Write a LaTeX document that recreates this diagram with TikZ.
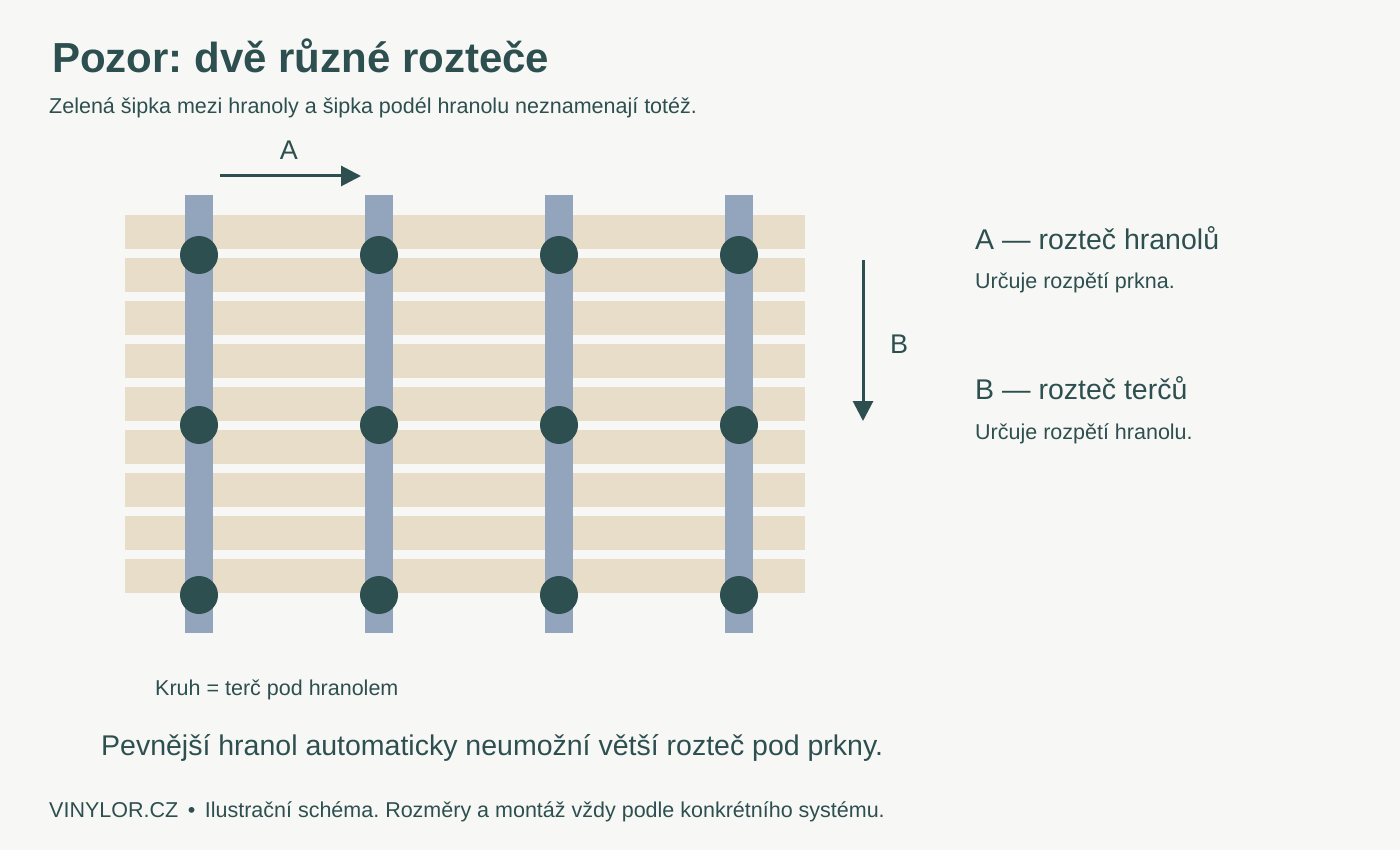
\documentclass[tikz,border=0pt]{standalone}
\usepackage{fontspec}
\setmainfont{Liberation Sans}
\usetikzlibrary{arrows.meta}
\definecolor{dark}{HTML}{2E4F4F}
\definecolor{plank}{HTML}{E8DDC8}
\definecolor{joist}{HTML}{93A5BC}
\definecolor{bg}{HTML}{F7F8F6}
\frenchspacing
\begin{document}
\begin{tikzpicture}[x=1pt,y=-1pt,
    txt/.style={anchor=west,text=dark,inner sep=0pt},
    arr/.style={draw=dark,line width=3pt,-{Triangle[length=20pt,width=20pt]}}]
  \fill[bg] (0,0) rectangle (1400,850);
  \useasboundingbox (0,0) rectangle (1400,850);

  %% prkna
  \foreach \r in {0,...,8}
    \fill[plank] (125,215+43*\r) rectangle (805,249+43*\r);
  %% hranoly a terce
  \foreach \c in {0,...,3}{
    \fill[joist] (185+180*\c,195) rectangle (213+180*\c,633);
    \foreach \t in {255,425,595}
      \fill[dark] (199+180*\c,\t) circle (19);
  }

  \node[txt,font=\bfseries\fontsize{42}{46}\selectfont] (title) at (52,56) {Pozor: dvě různé rozteče};
  \node[txt,font=\fontsize{21.5}{24}\selectfont] (sub) at (49,108) {Zelená šipka mezi hranoly a šipka podél hranolu neznamenají totéž.};

  \coordinate (a1) at (220,176);
  \coordinate (a2) at (361,176);
  \draw[arr] (a1) -- (a2);
  \node[text=dark,font=\fontsize{27}{30}\selectfont] (la) at (289,150) {A};
  \coordinate (b1) at (863,260);
  \coordinate (b2) at (863,421);
  \draw[arr] (b1) -- (b2);
  \node[text=dark,font=\fontsize{27}{30}\selectfont] (lb) at (899,344) {B};

  \node[txt,font=\fontsize{28.5}{32}\selectfont] (ha) at (975,238) {A — rozteč hranolů};
  \node[txt,font=\fontsize{21.5}{24}\selectfont] (da) at (975,283) {Určuje rozpětí prkna.};
  \node[txt,font=\fontsize{28.5}{32}\selectfont] (hb) at (975,388) {B — rozteč terčů};
  \node[txt,font=\fontsize{21.5}{24}\selectfont] (db) at (975,434) {Určuje rozpětí hranolu.};

  \node[txt,font=\fontsize{21.5}{24}\selectfont] (kruh) at (155,690) {Kruh = terč pod hranolem};
  \node[txt,font=\fontsize{28.5}{32}\selectfont] (note) at (101,748) {Pevnější hranol automaticky neumožní větší rozteč pod prkny.};
  \node[txt,font=\fontsize{21.5}{24}\selectfont] (foot) at (49,812) {VINYLOR.CZ \,•\, Ilustrační schéma. Rozměry a montáž vždy podle konkrétního systému.};
\end{tikzpicture}
\end{document}
